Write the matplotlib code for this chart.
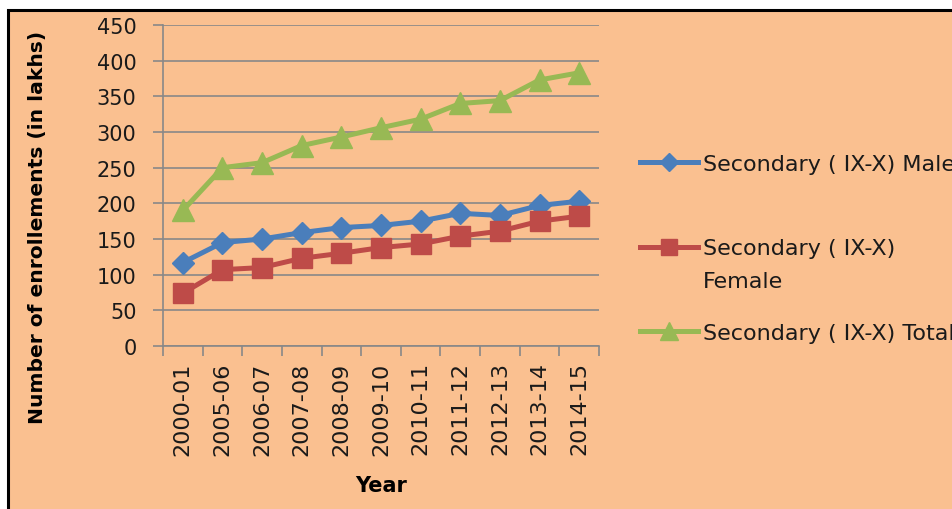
import matplotlib
matplotlib.use("Agg")
import matplotlib.pyplot as plt
from matplotlib.lines import Line2D
from matplotlib.patches import Rectangle

years = ["2000-01", "2005-06", "2006-07", "2007-08", "2008-09", "2009-10",
         "2010-11", "2011-12", "2012-13", "2013-14", "2014-15"]
male = [117, 145, 150, 159, 166, 169, 175, 186, 183, 197, 203]
female = [74, 107, 110, 123, 130, 138, 143, 154, 161, 175, 182]
total = [190, 250, 257, 281, 293, 306, 318, 340, 344, 373, 383]
yticks = [0, 50, 100, 150, 200, 250, 300, 350, 400, 450]

labels = ["Secondary ( IX-X) Male", "Secondary ( IX-X)\nFemale", "Secondary ( IX-X) Total"]
colors = ["#4A7EBB", "#BE4B48", "#98B954"]
markers = ["D", "s", "^"]
msizes = [11, 14.5, 16]

W, H = 953, 510
BG = "#FAC090"
GRID = "#888888"

plt.rcParams['font.family'] = ['DejaVu Sans']
fig = plt.figure(figsize=(W / 100, H / 100), dpi=100, facecolor="white")

# chart area background with border (top and left visible)
fig.add_artist(Rectangle((8.5 / W, -0.1), 1.2, 1.1 - 11 / H, transform=fig.transFigure,
                         facecolor=BG, edgecolor="black", linewidth=2.2, zorder=-10))

ax = fig.add_axes([163 / W, 1 - 347 / H, (599 - 163) / W, (347 - 26) / H])
ax.set_facecolor(BG)
ax.patch.set_alpha(0)

x = list(range(len(years)))
series = [male, female, total]
for vals, c, m, ms in zip(series, colors, markers, msizes):
    ax.plot(x, vals, color=c, linewidth=3.6, marker=m, markersize=ms,
            markerfacecolor=c, markeredgecolor=c, zorder=3, clip_on=False)

ax.set_xlim(-0.5, len(years) - 0.5)
ax.set_ylim(0, 450)
ax.set_yticks(yticks)
ax.set_yticklabels([str(v) for v in yticks], fontsize=15, color="#1a1a1a")
ax.set_xticks(x)
ax.set_xticklabels(years, rotation=90, fontsize=16, color="#1a1a1a")
ax.set_xticks([i - 0.5 for i in range(len(years) + 1)], minor=True)
ax.tick_params(axis="x", which="major", length=0, pad=11)
ax.tick_params(axis="x", which="minor", length=7, width=1.2, color=GRID)
ax.tick_params(axis="y", which="major", length=7, width=1.2, color=GRID, pad=12)

ax.grid(axis="y", color=GRID, linewidth=1.2)
ax.set_axisbelow(True)
for s in ["top", "right"]:
    ax.spines[s].set_visible(False)
for s in ["left", "bottom"]:
    ax.spines[s].set_color(GRID)
    ax.spines[s].set_linewidth(1.2)

fig.text(38 / W, 1 - 227 / H, "Number of enrollements (in lakhs)", rotation=90,
         fontsize=14.6, fontweight="bold", ha="center", va="center")
fig.text(381 / W, 1 - 486 / H, "Year", fontsize=15, fontweight="bold",
         ha="center", va="center")

# legend
leg_y = [163, 248, 332]
for lab, c, m, ms, yy in zip(labels, colors, markers, msizes, leg_y):
    yf = 1 - yy / H
    fig.add_artist(Line2D([640 / W, 669 / W, 698 / W], [yf, yf, yf], transform=fig.transFigure,
                          color=c, linewidth=3.6, marker=m, markersize=ms * 0.8,
                          markevery=[1], markerfacecolor=c, markeredgecolor=c))
    if "\n" in lab:
        fig.text(703 / W, 1 - (yy - 9) / H, lab, fontsize=16, ha="left", va="top",
                 linespacing=1.82, color="#1a1a1a")
    else:
        fig.text(703 / W, yf, lab, fontsize=16, ha="left", va="center_baseline",
                 color="#1a1a1a")

fig.savefig("out.png", dpi=100, facecolor="white")
